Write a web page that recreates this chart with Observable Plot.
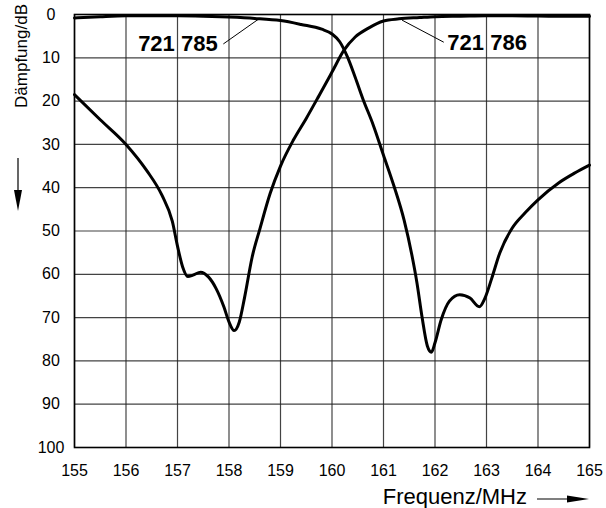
<!DOCTYPE html>
<html>
<head>
<meta charset="utf-8">
<script src="https://cdn.jsdelivr.net/npm/d3@7"></script>
<script src="https://cdn.jsdelivr.net/npm/@observablehq/plot@0.6"></script>
<style>
  html, body { margin: 0; padding: 0; background: #fff; }
  #chart { width: 606px; height: 508px; }
</style>
</head>
<body>
<div id="chart"></div>
<script>
// Axis ticks
const freqTicks = [155, 156, 157, 158, 159, 160, 161, 162, 163, 164, 165];
const dbTicks = [0, 10, 20, 30, 40, 50, 60, 70, 80, 90, 100];

// Filter 721 785: passes the lower band, notches around 162 MHz
const freq785 = [155, 155.5, 156, 156.5, 157, 157.5, 158, 158.5, 159, 159.4, 159.8, 160.0, 160.15, 160.3, 160.45, 160.6, 160.8, 161.0, 161.2, 161.4, 161.55, 161.65, 161.75, 161.85, 161.93, 162.0, 162.12, 162.28, 162.48, 162.68, 162.86, 162.97, 163.1, 163.26, 163.5, 163.75, 164.0, 164.4, 164.7, 165];
const db785   = [0.8, 0.5, 0.3, 0.3, 0.3, 0.4, 0.6, 0.9, 1.4, 2.3, 3.4, 4.5, 6.3, 9.8, 14.5, 19.5, 25.5, 32.5, 39.5, 47.5, 55.5, 62, 70, 76.5, 78, 75.8, 70.5, 66.2, 64.7, 65.5, 67.5, 65.5, 61, 55, 49.3, 45.8, 42.8, 38.9, 36.7, 34.8];

// Filter 721 786: passes the upper band, notches around 157-158 MHz
const freq786 = [155, 155.5, 156, 156.4, 156.7, 156.9, 157.0, 157.1, 157.2, 157.3, 157.45, 157.6, 157.75, 157.9, 158.0, 158.1, 158.2, 158.3, 158.45, 158.6, 158.8, 159.0, 159.25, 159.5, 159.75, 160.0, 160.23, 160.45, 160.7, 161.0, 161.3, 161.7, 162.0, 162.5, 163, 163.5, 164, 164.5, 165];
const db786   = [18.5, 24.3, 30, 36, 41.8, 47.8, 53.5, 58.3, 60.5, 60.2, 59.5, 60.6, 63.3, 67.5, 71, 73, 71, 65.5, 56, 49.5, 41.3, 35, 29, 24, 18.7, 13.3, 8.3, 5.2, 3.2, 1.5, 1.0, 0.7, 0.5, 0.4, 0.3, 0.3, 0.35, 0.4, 0.4];

// Curve labels with leader lines
const labelNames = ["721 785", "721 786"];
const labelFreq = [157.78, 162.24];
const labelDb = [6.9, 6.5];
const leaderFreqFrom = [157.89, 162.17];
const leaderDbFrom = [6.8, 6.4];
const leaderFreqTo = [158.57, 161.36];
const leaderDbTo = [1.1, 1.3];

const curves = [
  ...freq785.map((f, i) => ({ filter: "721 785", f, db: db785[i] })),
  ...freq786.map((f, i) => ({ filter: "721 786", f, db: db786[i] }))
];
const labels = labelNames.map((name, i) => ({ name, f: labelFreq[i], db: labelDb[i] }));
const leaders = labelNames.map((name, i) => ({
  f1: leaderFreqFrom[i], d1: leaderDbFrom[i], f2: leaderFreqTo[i], d2: leaderDbTo[i]
}));

const font = "'Liberation Sans', Arial, Helvetica, sans-serif";

const plot = Plot.plot({
  width: 606,
  height: 508,
  marginLeft: 74,
  marginRight: 17,
  marginTop: 14,
  marginBottom: 61,
  style: { fontFamily: font, fontSize: "16px", background: "#fff", color: "#000" },
  x: { domain: [155, 165] },
  y: { domain: [0, 100], reverse: true },
  marks: [
    Plot.gridX(freqTicks, { stroke: "#222", strokeOpacity: 0.85, strokeWidth: 1.2 }),
    Plot.gridY(dbTicks, { stroke: "#222", strokeOpacity: 0.85, strokeWidth: 1.2 }),
    Plot.axisX(freqTicks, { tickSize: 0, tickPadding: 17, fontSize: 16, tickFormat: d => String(d), label: null }),
    Plot.axisY(dbTicks, { tickSize: 0, tickPadding: 23.5, textAnchor: "middle", fontSize: 16, tickFormat: d => String(d), label: null }),
    Plot.line(curves, { x: "f", y: "db", z: "filter", curve: "monotone-x", stroke: "#000", strokeWidth: 3 }),
    Plot.link(leaders, { x1: "f1", y1: "d1", x2: "f2", y2: "d2", stroke: "#000", strokeWidth: 1 }),
    Plot.text(labels.slice(0, 1), { x: "f", y: "db", text: "name", textAnchor: "end", fontSize: 22, fontWeight: "bold" }),
    Plot.text(labels.slice(1), { x: "f", y: "db", text: "name", textAnchor: "start", fontSize: 22, fontWeight: "bold" }),
    Plot.frame({ stroke: "#000", strokeWidth: 1.6 })
  ]
});

document.getElementById("chart").appendChild(plot);

// Axis titles with their direction arrows
const svg = d3.select(plot);
svg.append("text")
  .attr("transform", "translate(27,56) rotate(-90)")
  .attr("text-anchor", "middle")
  .attr("font-family", font)
  .attr("font-size", 17)
  .attr("fill", "#000")
  .text("Dämpfung/dB");
svg.append("line")
  .attr("x1", 18).attr("y1", 158).attr("x2", 18).attr("y2", 195)
  .attr("stroke", "#000").attr("stroke-width", 1.2);
svg.append("path")
  .attr("d", "M14,190L22,190L18,211Z")
  .attr("fill", "#000");

svg.append("text")
  .attr("x", 527).attr("y", 504)
  .attr("text-anchor", "end")
  .attr("font-family", font)
  .attr("font-size", 22)
  .attr("fill", "#000")
  .text("Frequenz/MHz");
svg.append("line")
  .attr("x1", 537).attr("y1", 499).attr("x2", 572).attr("y2", 499)
  .attr("stroke", "#000").attr("stroke-width", 1.2);
svg.append("path")
  .attr("d", "M567,495.5L567,502.5L589,499Z")
  .attr("fill", "#000");
</script>
</body>
</html>
